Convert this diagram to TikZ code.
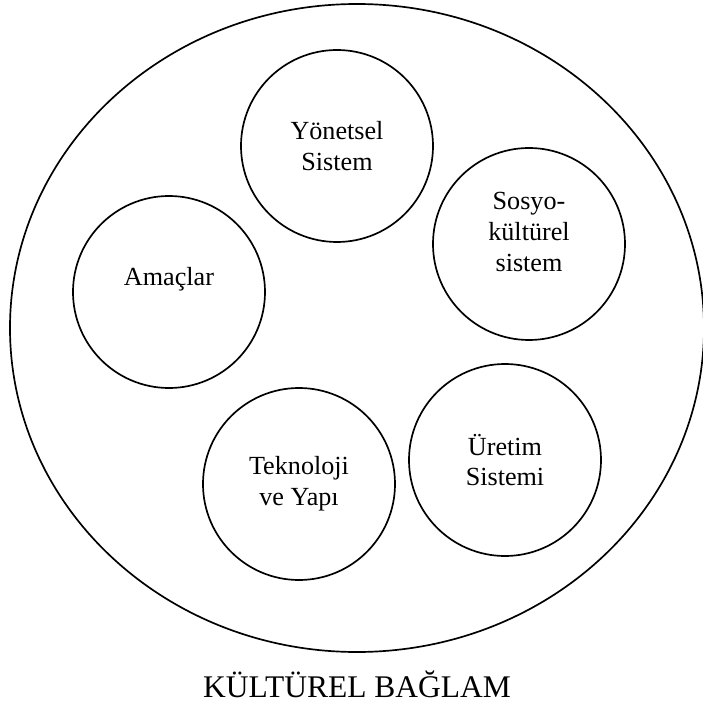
\documentclass[tikz,border=0pt]{standalone}
\usepackage{fontspec}
\setmainfont{Liberation Serif}
\usetikzlibrary{shapes.geometric}
\tikzset{
  outer/.style  = {draw, ellipse, line width=1.2pt, minimum width=17.35cm,
                   minimum height=16.2cm, inner sep=0pt},
  bubble/.style = {draw, circle, line width=1.2pt, minimum size=4.8cm,
                   inner sep=0pt, align=center,
                   font=\fontsize{18.6}{22}\selectfont},
  caption/.style = {anchor=base, inner sep=0pt,
                    font=\fontsize{22.4}{26}\selectfont},
}

\begin{document}
\begin{tikzpicture}

  \useasboundingbox (-8.925,-9.525) rectangle (8.625,8.2);

  % ===== the context ====================================================
  \node[outer] (ctx) at (0,0) {};

  % ===== the five subsystems ============================================
  \node[bubble]                  (yon)  at (-0.50, 4.55) {Yönetsel\\ Sistem};
  \node[bubble, text depth=0.6cm] (sos) at ( 4.30, 2.10) {Sosyo-\\ kültürel\\ sistem};
  \node[bubble, text depth=0.8cm] (amac) at (-4.70, 0.90) {Amaçlar};
  \node[bubble]                  (uret) at ( 3.70,-3.30) {Üretim\\ Sistemi};
  \node[bubble]                  (tek)  at (-1.45,-3.90) {Teknoloji\\ ve Yapı};

  % ===== caption ========================================================
  \node[caption] (ctxname) at (0,-9.24) {KÜLTÜREL BAĞLAM};

\end{tikzpicture}
\end{document}
